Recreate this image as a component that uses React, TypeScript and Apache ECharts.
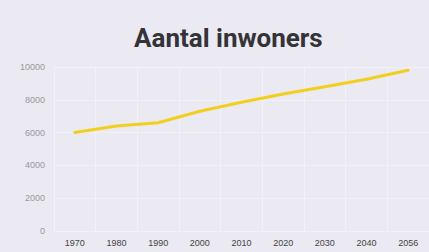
import React, { useEffect, useRef } from "react";
import * as echarts from "echarts";

const years = ["1970", "1980", "1990", "2000", "2010", "2020", "2030", "2040", "2056"];
const inwoners = [6000, 6400, 6600, 7300, 7850, 8350, 8800, 9250, 9800];
const yTicks = [0, 2000, 4000, 6000, 8000, 10000];

export default function App() {
  const ref = useRef<HTMLDivElement>(null);
  useEffect(() => {
    const chart = echarts.init(ref.current!, null, { renderer: "svg" });
    chart.setOption({
      animation: false,
      backgroundColor: "#ebe9f1",
      title: {
        text: "Aantal inwoners",
        left: 129,
        top: 20,
        textStyle: {
          fontFamily: "Roboto, sans-serif",
          fontWeight: "bold",
          fontSize: 26,
          color: "#333338",
        },
      },
      grid: { left: 54, right: 0, top: 67, bottom: 21, containLabel: false },
      xAxis: {
        type: "category",
        data: years,
        boundaryGap: true,
        axisLine: { show: false },
        axisTick: { show: false },
        axisLabel: {
          color: "#444",
          fontSize: 9,
          fontFamily: "'Liberation Sans', Arial, sans-serif",
          margin: 7,
        },
        splitLine: { show: true, lineStyle: { color: "#f2f1f6", width: 1 } },
      },
      yAxis: {
        type: "value",
        min: yTicks[0],
        max: yTicks[yTicks.length - 1],
        interval: 2000,
        axisLine: { show: true, lineStyle: { color: "#f2f1f6" } },
        axisTick: { show: false },
        axisLabel: {
          color: "#999",
          fontSize: 9,
          fontFamily: "'Liberation Sans', Arial, sans-serif",
          margin: 9,
          formatter: (v: number) => String(v),
        },
        splitLine: { show: true, lineStyle: { color: "#f2f1f6", width: 1 } },
      },
      series: [
        {
          type: "line",
          data: inwoners,
          showSymbol: false,
          symbol: "none",
          lineStyle: { color: "#f2cf1f", width: 3, cap: "round" },
        },
      ],
    });
    return () => chart.dispose();
  }, []);
  return <div ref={ref} style={{ width: 429, height: 252, position: "fixed", left: 0, top: 0 }} />;
}
